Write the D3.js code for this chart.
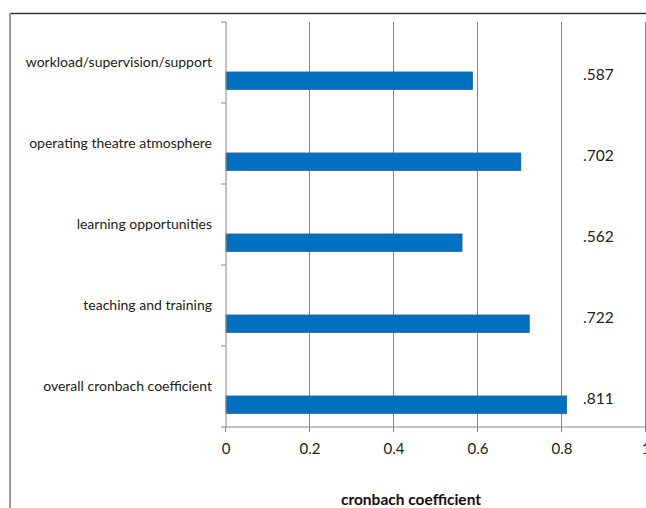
<!DOCTYPE html>
<html>
<head>
<meta charset="utf-8">
<script src="https://cdn.jsdelivr.net/npm/d3@7"></script>
<style>
  body { margin: 0; background: #fff; }
  svg { display: block; font-family: Lato, "Open Sans", sans-serif; }
</style>
</head>
<body>
<div id="chart"></div>
<script>
const CATEGORIES = [
  "workload/supervision/support",
  "operating theatre atmosphere",
  "learning opportunities",
  "teaching and training",
  "overall cronbach coefficient"
];
const VALUES = [0.587, 0.702, 0.562, 0.722, 0.811];
const VALUE_LABELS = [".587", ".702", ".562", ".722", ".811"];
const X_TICKS = [0, 0.2, 0.4, 0.6, 0.8, 1];

const WIDTH = 646, HEIGHT = 508;
const svg = d3.select("#chart").append("svg")
              .attr("width", WIDTH)
              .attr("height", HEIGHT);

// frame pieces visible in the crop
svg.append("line").attr("x1", 10).attr("x2", WIDTH).attr("y1", 13.5).attr("y2", 13.5)
   .attr("stroke", "#333").attr("stroke-width", 1.5);
svg.append("line").attr("x1", 10).attr("x2", 10).attr("y1", 13).attr("y2", HEIGHT)
   .attr("stroke", "#999").attr("stroke-width", 2);

const x = d3.scaleLinear().domain([0, 1]).range([226, 646]);
const y = d3.scaleBand().domain(CATEGORIES).range([22, 427]);

// gridlines
svg.append("g").selectAll("line")
   .data(X_TICKS.slice(1))
   .join("line")
   .attr("x1", d => x(d) - 0.5).attr("x2", d => x(d) - 0.5)
   .attr("y1", 22).attr("y2", 427)
   .attr("stroke", "#888").attr("stroke-width", 1);

// bars
const bandH = y.bandwidth();
svg.append("g").selectAll("rect")
   .data(CATEGORIES)
   .join("rect")
   .attr("x", x(0))
   .attr("y", d => y(d) + bandH * 0.617)
   .attr("width", (d, i) => x(VALUES[i]) - x(0))
   .attr("height", bandH * 0.215)
   .attr("fill", "#0070c0")
   .attr("stroke", "#2a5e9e")
   .attr("stroke-width", 0.8);

// value labels
svg.append("g").selectAll("text")
   .data(CATEGORIES)
   .join("text")
   .attr("x", 583)
   .attr("y", d => y(d) + bandH * 0.72)
   .attr("font-size", 15.5)
   .attr("fill", "#222")
   .text((d, i) => VALUE_LABELS[i]);

// y axis
const yAxis = svg.append("g");
yAxis.append("line").attr("x1", x(0)).attr("x2", x(0)).attr("y1", 22).attr("y2", 427)
     .attr("stroke", "#888");
yAxis.selectAll(".ytick")
     .data(d3.range(CATEGORIES.length + 1))
     .join("line")
     .attr("x1", x(0) - 5).attr("x2", x(0))
     .attr("y1", i => 22 + i * bandH).attr("y2", i => 22 + i * bandH)
     .attr("stroke", "#888");
yAxis.selectAll("text")
     .data(CATEGORIES)
     .join("text")
     .attr("x", 212)
     .attr("y", d => y(d) + bandH * 0.56)
     .attr("text-anchor", "end")
     .attr("font-size", 14)
     .attr("fill", "#222")
     .text(d => d);

// x axis
const xAxis = svg.append("g");
xAxis.append("line").attr("x1", x(0)).attr("x2", x(1)).attr("y1", 427).attr("y2", 427)
     .attr("stroke", "#888");
xAxis.selectAll("line.xt")
     .data(X_TICKS)
     .join("line")
     .attr("class", "xt")
     .attr("x1", d => x(d) - 0.5).attr("x2", d => x(d) - 0.5)
     .attr("y1", 427).attr("y2", 432)
     .attr("stroke", "#888");
xAxis.selectAll("text")
     .data(X_TICKS)
     .join("text")
     .attr("x", d => x(d))
     .attr("y", 454)
     .attr("text-anchor", "middle")
     .attr("font-size", 15)
     .attr("fill", "#222")
     .text(d => d === 0 || d === 1 ? d : d3.format(".1f")(d));

svg.append("text")
   .attr("x", 411)
   .attr("y", 505)
   .attr("text-anchor", "middle")
   .attr("font-size", 15.5)
   .attr("font-weight", "bold")
   .attr("fill", "#111")
   .text("cronbach coefficient");
</script>
</body>
</html>
